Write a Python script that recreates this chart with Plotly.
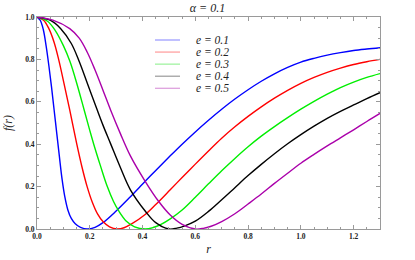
import plotly.graph_objects as go

labels = ["e = 0.1", "e = 0.2", "e = 0.3", "e = 0.4", "e = 0.5"]
colors = ["#0000ff", "#ff0000", "#00ee00", "#000000", "#aa00aa"]
legend_colors = ["#8c8cff", "#ff9090", "#90f090", "#909090", "#d890d8"]

# e = 0.1
r1 = [0, 0.012, 0.024, 0.035, 0.045, 0.055, 0.065, 0.075, 0.085, 0.095, 0.105, 0.117, 0.13, 0.145,
      0.165, 0.19, 0.22, 0.25, 0.30, 0.35, 0.41, 0.45, 0.505, 0.55, 0.60, 0.65, 0.70, 0.75, 0.80,
      0.85, 0.90, 0.95, 1.00, 1.05, 1.10, 1.15, 1.20, 1.25, 1.30]
f1 = [1.0, 0.985, 0.94, 0.86, 0.77, 0.67, 0.56, 0.45, 0.34, 0.235, 0.155, 0.09, 0.05, 0.025,
      0.008, 0.0, 0.008, 0.03, 0.085, 0.147, 0.225, 0.276, 0.345, 0.40, 0.458, 0.513, 0.565, 0.613, 0.657,
      0.697, 0.732, 0.762, 0.787, 0.805, 0.82, 0.832, 0.842, 0.849, 0.855]

# e = 0.2
r2 = [0, 0.025, 0.045, 0.065, 0.082, 0.10, 0.124, 0.15, 0.17, 0.19, 0.21, 0.23, 0.25, 0.275, 0.305,
      0.33, 0.36, 0.41, 0.45, 0.505, 0.55, 0.60, 0.65, 0.70, 0.75, 0.80, 0.85, 0.90, 0.95, 1.00,
      1.05, 1.10, 1.15, 1.20, 1.25, 1.30]
f2 = [1.0, 0.985, 0.945, 0.88, 0.80, 0.70, 0.562, 0.405, 0.295, 0.20, 0.125, 0.07, 0.035, 0.01, 0.0,
      0.006, 0.025, 0.068, 0.115, 0.185, 0.243, 0.306, 0.368, 0.428, 0.482, 0.531, 0.576, 0.617, 0.654, 0.687,
      0.715, 0.739, 0.759, 0.776, 0.789, 0.80]

# e = 0.3
r3 = [0, 0.04, 0.07, 0.10, 0.125, 0.15, 0.178, 0.20, 0.215, 0.24, 0.265, 0.29, 0.31, 0.34, 0.37, 0.41,
      0.44, 0.47, 0.505, 0.55, 0.60, 0.65, 0.70, 0.75, 0.80, 0.85, 0.90, 0.95, 1.00, 1.05, 1.10,
      1.15, 1.20, 1.25, 1.30]
f3 = [1.0, 0.98, 0.935, 0.865, 0.79, 0.69, 0.565, 0.465, 0.40, 0.30, 0.205, 0.13, 0.085, 0.035, 0.01, 0.0,
      0.007, 0.022, 0.048, 0.09, 0.15, 0.213, 0.275, 0.333, 0.388, 0.438, 0.483, 0.525, 0.565, 0.602, 0.636,
      0.667, 0.693, 0.715, 0.733]

# e = 0.4
r4 = [0, 0.05, 0.09, 0.13, 0.16, 0.19, 0.228, 0.25, 0.278, 0.316, 0.354, 0.41, 0.45, 0.50,
      0.53, 0.56, 0.60, 0.65, 0.70, 0.75, 0.80, 0.85, 0.90, 0.95, 1.00, 1.05, 1.10, 1.15, 1.20, 1.25, 1.30]
f4 = [1.0, 0.985, 0.945, 0.875, 0.79, 0.69, 0.562, 0.49, 0.405, 0.29, 0.185, 0.085, 0.03, 0.0,
      0.004, 0.015, 0.037, 0.083, 0.138, 0.195, 0.252, 0.305, 0.355, 0.402, 0.445, 0.485, 0.522, 0.555, 0.585,
      0.615, 0.643]

# e = 0.5
r5 = [0, 0.06, 0.124, 0.16, 0.19, 0.22, 0.25, 0.28, 0.316, 0.354, 0.41, 0.46, 0.505, 0.55, 0.60,
      0.63, 0.66, 0.70, 0.75, 0.80, 0.85, 0.90, 0.95, 1.00, 1.05, 1.10, 1.15, 1.20, 1.25, 1.30]
f5 = [1.0, 0.985, 0.945, 0.90, 0.835, 0.75, 0.655, 0.558, 0.45, 0.345, 0.225, 0.132, 0.066, 0.022, 0.0,
      0.003, 0.013, 0.035, 0.072, 0.118, 0.165, 0.215, 0.263, 0.31, 0.352, 0.392, 0.43, 0.468, 0.507, 0.545]

x_ticks = [0.0, 0.2, 0.4, 0.6, 0.8, 1.0, 1.2]
x_ticklabels = ["0.0", "0.2", "0.4", "0.6", "0.8", "1.0", "1.2"]
y_ticks = [0.0, 0.2, 0.4, 0.6, 0.8, 1.0]
y_ticklabels = ["0.0", "0.2", "0.4", "0.6", "0.8", "1.0"]

series = [(r1, f1), (r2, f2), (r3, f3), (r4, f4), (r5, f5)]

fig = go.Figure()
for (rr, ff), c, lab in zip(series, colors, labels):
    fig.add_trace(go.Scatter(x=rr, y=ff, mode="lines", name=lab,
                             line=dict(color=c, width=1.4, shape="spline", smoothing=1.0),
                             showlegend=False, hoverinfo="skip"))

serif = "Liberation Serif"
axis_common = dict(
    showgrid=False, zeroline=False, showline=True, linecolor="#9a9a9a", linewidth=1, mirror="ticks",
    ticks="inside", ticklen=4, tickcolor="#9a9a9a", tickwidth=1, automargin=False,
    tickfont=dict(family=serif, size=7.5, color="#222", weight="bold"),
    minor=dict(ticks="inside", ticklen=2, tickcolor="#9a9a9a", dtick=0.05),
)
fig.update_xaxes(range=[0, 1.3], tickvals=x_ticks, ticktext=x_ticklabels,
                 title=dict(text="r", font=dict(family=serif, size=12, style="italic", color="#222"), standoff=4),
                 **axis_common)
fig.update_yaxes(range=[0, 1.0], tickvals=y_ticks, ticktext=y_ticklabels,
                 title=dict(text="f(r)", font=dict(family=serif, size=12, style="italic", color="#222"), standoff=9),
                 **axis_common)

# legend drawn as short line samples with text labels (paper coordinates)
leg_x0, leg_x1, leg_tx = 0.344, 0.417, 0.458
leg_y0, leg_dy = 0.8915, 0.0569
for i, (lab, c) in enumerate(zip(labels, legend_colors)):
    yy = leg_y0 - i * leg_dy
    fig.add_shape(type="line", xref="paper", yref="paper", x0=leg_x0, x1=leg_x1, y0=yy, y1=yy,
                  line=dict(color=c, width=1.1))
    fig.add_annotation(xref="paper", yref="paper", x=leg_tx, y=yy, xanchor="left", yanchor="middle",
                       text=lab, showarrow=False,
                       font=dict(family=serif, size=11.5, style="italic", color="#222"))

fig.update_layout(
    width=415, height=260,
    margin=dict(l=37, r=35, t=17, b=31),
    paper_bgcolor="white", plot_bgcolor="white",
    title=dict(text="α = 0.1", x=0.5, xanchor="center", y=0.9865, yanchor="top",
               font=dict(family=serif, size=12, style="italic", color="#222")),
    showlegend=False,
)

fig.write_html("out.html", config={"displayModeBar": False},
               post_script="document.body.style.margin='0';document.body.style.overflow='hidden';")
